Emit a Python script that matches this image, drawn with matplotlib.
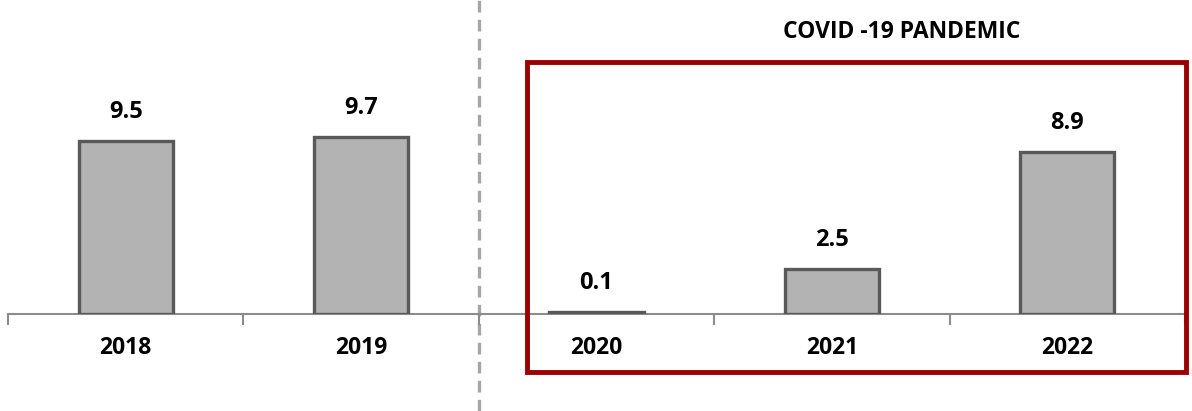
import matplotlib.pyplot as plt
import matplotlib.transforms as mtransforms
from matplotlib.patches import Rectangle
import numpy as np

# data
years = ['2018', '2019', '2020', '2021', '2022']
values = [9.5, 9.7, 0.1, 2.5, 8.9]
value_labels = ['9.5', '9.7', '0.1', '2.5', '8.9']

plt.rcParams['font.family'] = ['Open Sans', 'DejaVu Sans']

fig = plt.figure(figsize=(11.92, 4.11), dpi=100)
# axis line sits ~314 px from top
ax = fig.add_axes([8 / 1192, 1 - 314 / 411, 1177 / 1192, 314 / 411])

x = np.arange(len(years))
ax.bar(x, values, width=0.4, color='#b3b3b3', edgecolor='#595959', linewidth=2.4, zorder=3)

for xi, v, lab in zip(x, values, value_labels):
    ax.annotate(lab, (xi, v), xytext=(0, 17), textcoords='offset pixels',
                ha='center', va='bottom', fontsize=17, fontweight='bold')

ax.set_xlim(-0.5, 4.5)
ax.set_ylim(0, 314 / 18.2)

for s in ['top', 'right', 'left']:
    ax.spines[s].set_visible(False)
ax.spines['bottom'].set_color('#8c8c8c')
ax.spines['bottom'].set_linewidth(1.5)
ax.set_yticks([])

ax.set_xticks(x)
ax.set_xticklabels(years, fontsize=16.5, fontweight='bold')
ax.tick_params(axis='x', which='major', length=0, pad=16)
ax.set_xticks(np.arange(-0.5, 5, 1), minor=True)
ax.tick_params(axis='x', which='minor', length=8, width=1.5, color='#8c8c8c', direction='out')

# dashed separator and pandemic box (x in data, y in figure coords)
trans = mtransforms.blended_transform_factory(ax.transData, fig.transFigure)
ax.plot([1.5, 1.5], [0, 1], transform=trans, clip_on=False, color='#a6a6a6',
        linewidth=2.4, linestyle=(0, (3.5, 2.2)), zorder=1)

x0 = (527 - 8) / 235.4 - 0.5
x1 = (1186 - 8) / 235.4 - 0.5
y0 = 1 - 372 / 411
y1 = 1 - 62 / 411
box = Rectangle((x0, y0), x1 - x0, y1 - y0, transform=trans, fill=False,
                edgecolor='#9b0000', linewidth=3.5, clip_on=False, zorder=4)
ax.add_patch(box)

fig.text(902 / 1192, 1 - 32 / 411, 'COVID -19 PANDEMIC', ha='center', va='center',
         fontsize=16.5, fontweight='bold')

fig.savefig('out.png', dpi=100)
